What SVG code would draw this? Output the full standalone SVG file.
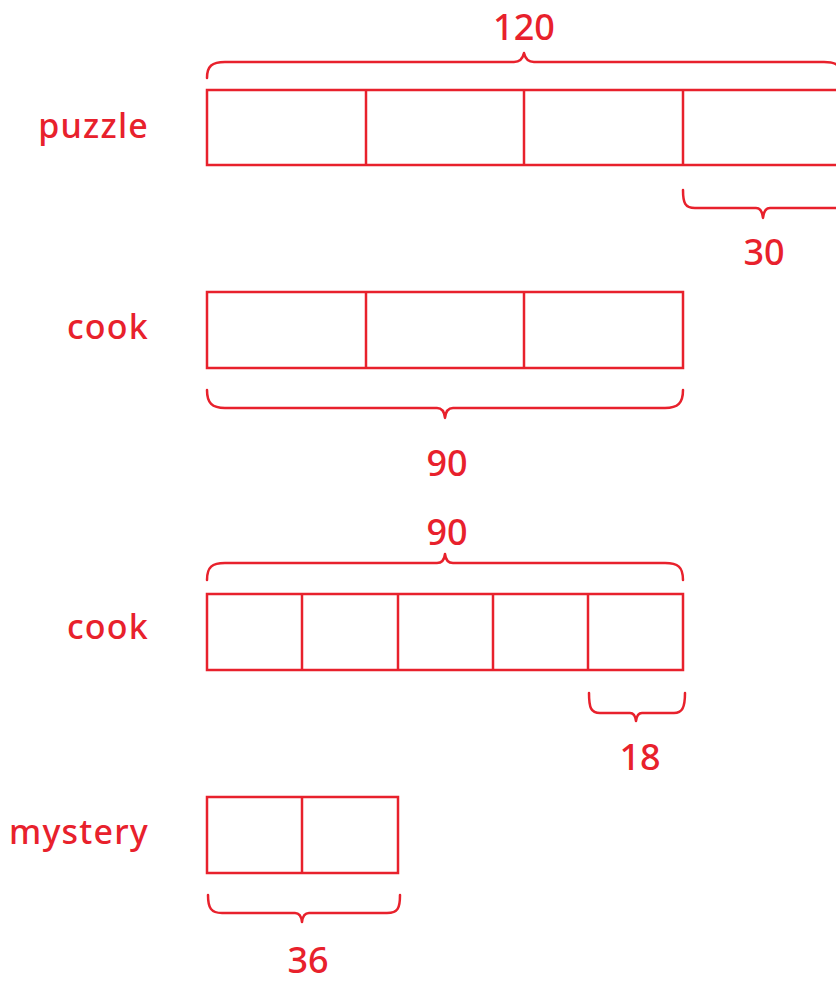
<svg xmlns="http://www.w3.org/2000/svg" width="836" height="984" viewBox="0 0 836 984">
<style>
.bx{fill:none;stroke:#e8212c;stroke-width:2.5}
.br{fill:none;stroke:#e8212c;stroke-width:2.5;stroke-linecap:round;stroke-linejoin:round}
.lb{font-family:"Noto Sans","DejaVu Sans",sans-serif;font-size:34px;fill:#e8212c;font-weight:500;letter-spacing:1.2px}
.nm{font-family:"Noto Sans","DejaVu Sans",sans-serif;font-size:36px;fill:#e8212c;font-weight:500;text-anchor:middle}
</style>
<rect width="836" height="984" fill="#fff"/>
<g id="puzzle">
<text class="lb" x="149" y="138" text-anchor="end">puzzle</text>
<rect class="bx" x="207" y="90" width="635" height="75"/>
<line class="bx" x1="366" y1="90" x2="366" y2="165"/>
<line class="bx" x1="524" y1="90" x2="524" y2="165"/>
<line class="bx" x1="683" y1="90" x2="683" y2="165"/>
<path class="br" d="M207,78 C207,66 212,62 225,62 L514,62 Q522,62 524,53 Q526,62 534,62 L824,62 C837,62 842,66 842,78"/>
<text class="nm" x="524" y="40">120</text>
<path class="br" d="M683,190 C683,203 685,208 695,208 L756,208 Q762,208 763,218 Q764,208 770,208 L842,208"/>
<text class="nm" x="764" y="265">30</text>
</g>
<g id="cook1">
<text class="lb" x="149" y="339" text-anchor="end">cook</text>
<rect class="bx" x="207" y="292" width="476" height="76"/>
<line class="bx" x1="366" y1="292" x2="366" y2="368"/>
<line class="bx" x1="524" y1="292" x2="524" y2="368"/>
<path class="br" d="M207,390 C207,403 212,408 225,408 L437,408 Q444,408 445,418 Q446,408 453,408 L665,408 C678,408 683,403 683,390"/>
<text class="nm" x="447" y="476">90</text>
</g>
<g id="cook2">
<text class="lb" x="149" y="639" text-anchor="end">cook</text>
<text class="nm" x="447" y="545">90</text>
<path class="br" d="M207,580 C207,567 212,563 225,563 L437,563 Q444,563 445,554 Q446,563 453,563 L665,563 C678,563 683,567 683,580"/>
<rect class="bx" x="207" y="594" width="476" height="76"/>
<line class="bx" x1="302" y1="594" x2="302" y2="670"/>
<line class="bx" x1="398" y1="594" x2="398" y2="670"/>
<line class="bx" x1="493" y1="594" x2="493" y2="670"/>
<line class="bx" x1="588" y1="594" x2="588" y2="670"/>
<path class="br" d="M589,693 C589,708 591,713 600,713 L630,713 Q635,713 636,721 Q637,713 642,713 L674,713 C682,713 685,708 685,693"/>
<text class="nm" x="640" y="770">18</text>
</g>
<g id="mystery">
<text class="lb" x="149" y="844" text-anchor="end">mystery</text>
<rect class="bx" x="207" y="797" width="191" height="76"/>
<line class="bx" x1="302" y1="797" x2="302" y2="873"/>
<path class="br" d="M208,895 C208,908 211,913 222,913 L295,913 Q301,913 302,922 Q303,913 309,913 L387,913 C398,913 400,908 400,895"/>
<text class="nm" x="308" y="973">36</text>
</g>
</svg>
